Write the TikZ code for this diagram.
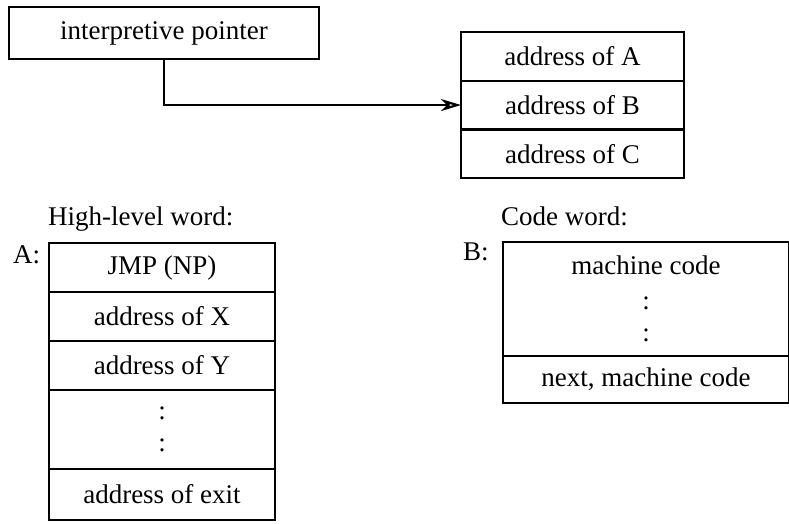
\documentclass[tikz,border=0pt]{standalone}
\usepackage{fontspec}
\setmainfont{Liberation Serif}
\usetikzlibrary{arrows.meta,positioning}

\begin{document}
\begin{tikzpicture}[x=1pt, y=-1pt,
        cell/.style={rectangle, draw=black, line width=2.2pt, outer sep=0pt,
                     inner sep=0pt, align=center, font=\fontsize{27}{32}\selectfont},
        txt/.style={inner sep=0pt, font=\fontsize{27}{32}\selectfont},
        arr/.style={-{Stealth[open, length=20pt, width=12pt, inset=6pt]}, line width=2.2pt}
      ]
        \useasboundingbox (0,0) rectangle (789,523);
        % interpretive pointer
        \node[cell, minimum width=310pt, minimum height=52pt] (ip) at (164,33) {interpretive pointer};
        % list of addresses
        \node[cell, minimum width=223pt, minimum height=48.7pt, anchor=north] (adrA) at (572.5,32) {address of A};
        \node[cell, minimum width=223pt, minimum height=48.7pt, below=0pt of adrA] (adrB) {address of B};
        \node[cell, minimum width=223pt, minimum height=48.7pt, below=0pt of adrB] (adrC) {address of C};
        \draw[arr] (ip.south) |- (adrB.west);
        % high-level word
        \node[txt, anchor=base west] (hlw) at (48,225) {High-level word:};
        \node[txt, anchor=base west] (labA) at (13,263) {A:};
        \node[cell, minimum width=226pt, minimum height=49pt, anchor=north] (jmp) at (162,243) {JMP (NP)};
        \node[cell, minimum width=226pt, minimum height=49pt, below=0pt of jmp] (adrX) {address of X};
        \node[cell, minimum width=226pt, minimum height=49pt, below=0pt of adrX] (adrY) {address of Y};
        \node[cell, minimum width=226pt, minimum height=79pt, below=0pt of adrY] (adots) {:\\:};
        \node[cell, minimum width=226pt, minimum height=51pt, below=0pt of adots] (adrExit) {address of exit};
        % code word
        \node[txt, anchor=base west] (cw) at (501,225) {Code word:};
        \node[txt, anchor=base west] (labB) at (463,260) {B:};
        \node[cell, minimum width=286pt, minimum height=114pt, anchor=north] (mcode) at (646,242) {machine code\\[3pt]:\\:};
        \node[cell, minimum width=286pt, minimum height=47pt, below=0pt of mcode] (nextcode) {next, machine code};
      \end{tikzpicture}
\end{document}
